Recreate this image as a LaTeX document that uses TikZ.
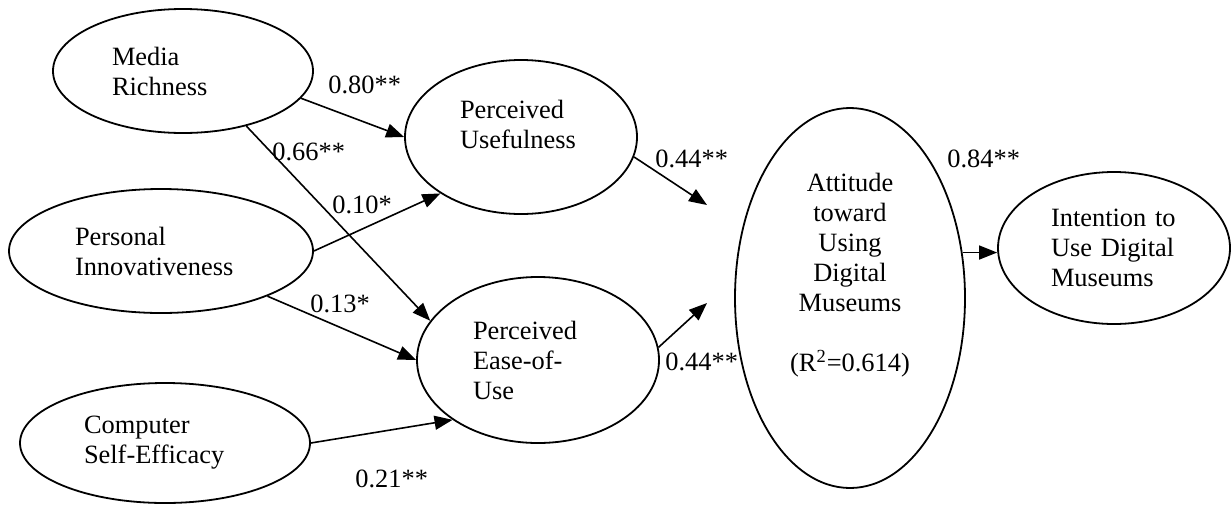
\documentclass[tikz,border=0pt]{standalone}
\usepackage{fontspec}
\setmainfont{Liberation Serif}
\usetikzlibrary{arrows.meta,shapes.geometric}

\begin{document}
\begin{tikzpicture}[x=0.5pt,y=-0.5pt,
  font=\fontsize{13.2}{15}\selectfont,
  latent/.style={draw, ellipse, line width=0.9pt, inner sep=0pt, align=left},
  coef/.style={anchor=base west, inner sep=0pt},
  effect/.style={-{Triangle[length=9pt,width=7pt]}, line width=0.8pt}]

\useasboundingbox (0,0) rectangle (1231,504);

\node [latent, minimum width=130pt, minimum height=62pt, text width=71pt] (mr)  at (183,71)  {Media\\Richness};
\node [latent, minimum width=152pt, minimum height=62pt, text width=86pt] (pi)  at (161,251) {Personal\\Innovativeness};
\node [latent, minimum width=145pt, minimum height=60pt, text width=81pt] (cse) at (165,443) {Computer\\Self-Efficacy};
\node [latent, minimum width=116pt, minimum height=77pt, text width=61pt] (pu)  at (521,137) {Perceived\\Usefulness\\[-2pt]\mbox{}};
\node [latent, minimum width=121pt, minimum height=83pt, text width=65pt] (peu) at (538,360) {Perceived\\Ease-of-\\Use};
\node [latent, align=center, minimum width=115pt, minimum height=190pt] (att) at (850,298)
    {Attitude\\toward\\Using\\Digital\\Museums\\[15pt](R\textsuperscript{2}=0.614)\\[11pt]\mbox{}};
\node [latent, minimum width=116pt, minimum height=76pt, text width=63pt] (int) at (1114,248) {Intention to\\Use Digital\\Museums};

\coordinate (pu end)  at (707,205);
\coordinate (peu end) at (707,303);

\draw [effect] (mr.-13)   -- (pu.west);
\draw [effect] (mr.-41)   -- (peu.160);
\draw [effect] (pi.east)  -- (pu.-145);
\draw [effect] (pi.-23)   -- (peu.west);
\draw [effect] (cse.east) -- (peu.-145);
\draw [effect] (pu.-10)   -- (pu end);
\draw [effect] (peu.6)    -- (peu end);
\draw [effect] (att.22)   -- (att.22 -| int.west);

% path coefficients
\foreach \n/\x/\y/\t in {a/328/93/0.80**, b/272/160/0.66**, c/332/213/0.10*, d/310/312/0.13*,
                         e/355/487/0.21**, f/655/167/0.44**, g/665/370/0.44**, h/947/167/0.84**}
    \node [coef] (coef \n) at (\x,\y) {\t};

\end{tikzpicture}
\end{document}
